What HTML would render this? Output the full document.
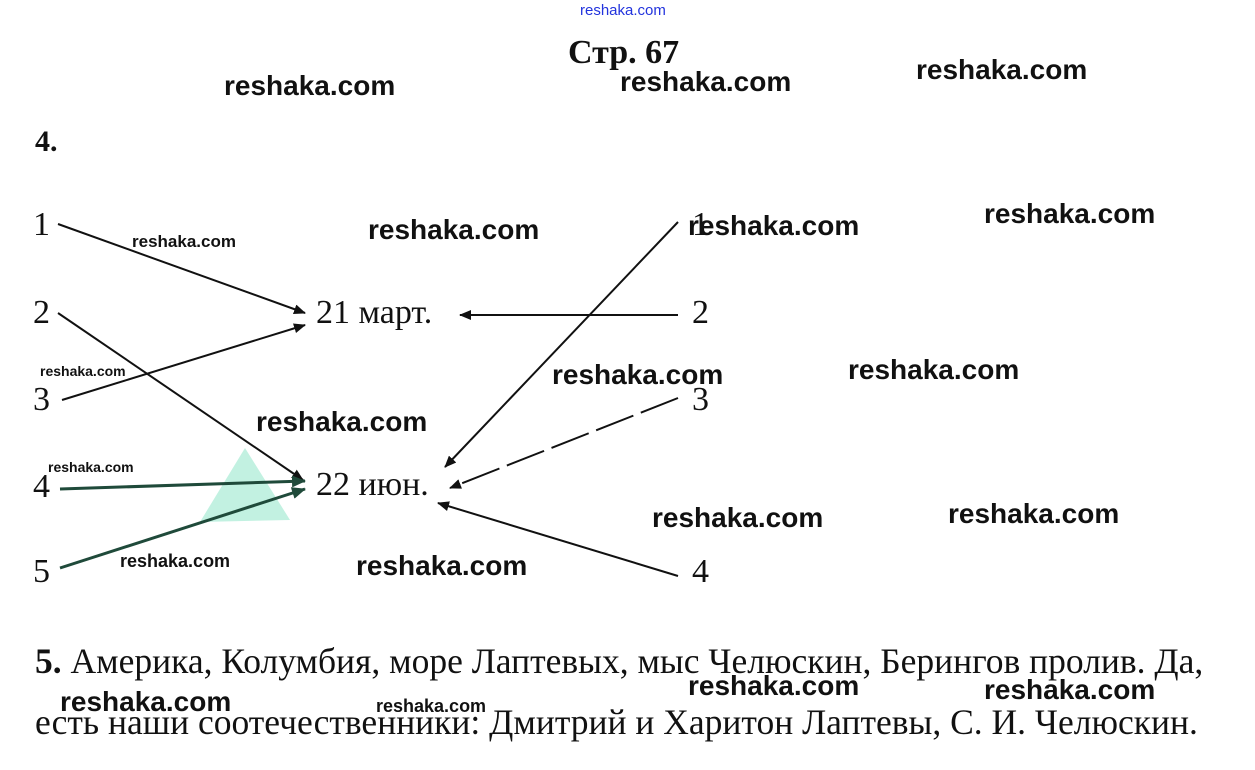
<!DOCTYPE html>
<html><head><meta charset="utf-8"><style>
body{margin:0;width:1255px;height:770px;background:#fff;position:relative;overflow:hidden}
.s{position:absolute;font-family:"Liberation Serif",serif;color:#111;white-space:nowrap}
.w{position:absolute;font-family:"Liberation Sans",sans-serif;font-weight:bold;color:#111;white-space:nowrap}
svg{position:absolute;left:0;top:0}
</style></head><body>
<svg width="1255" height="770">
<defs><marker id="a" markerWidth="12" markerHeight="10" refX="11" refY="5" orient="auto" markerUnits="userSpaceOnUse" viewBox="0 0 12 10"><path d="M0,0L12,5L0,10z" fill="#111"/></marker>
<marker id="g" markerWidth="14" markerHeight="12" refX="13" refY="6" orient="auto" markerUnits="userSpaceOnUse" viewBox="0 0 14 12"><path d="M0,0L14,6L0,12z" fill="#1f4a3a"/></marker></defs>
<polygon points="200,522 245,448 290,520" fill="#b7eedc" opacity="0.85"/>
<g stroke="#111" stroke-width="2" fill="none">
<line x1="58" y1="224" x2="305" y2="313" marker-end="url(#a)"/>
<line x1="58" y1="313" x2="303" y2="480" marker-end="url(#a)"/>
<line x1="62" y1="400" x2="305" y2="325" marker-end="url(#a)"/>
<line x1="678" y1="315" x2="460" y2="315" marker-end="url(#a)"/>
<line x1="678" y1="222" x2="445" y2="467" marker-end="url(#a)"/>
<line x1="678" y1="398" x2="450" y2="488" stroke-dasharray="40 8" marker-end="url(#a)"/>
<line x1="678" y1="576" x2="438" y2="503" marker-end="url(#a)"/>
</g>
<g stroke="#1f4a3a" stroke-width="3" fill="none">
<line x1="60" y1="489" x2="305" y2="481" marker-end="url(#g)"/>
<line x1="60" y1="568" x2="305" y2="489" marker-end="url(#g)"/>
</g>
</svg>
<div class="w" style="left:580px;top:2px;font-size:15px;font-weight:normal;color:#2233dd">reshaka.com</div>
<div class="s" style="left:568px;top:34px;font-size:34px;font-weight:bold">Стр. 67</div>
<div class="s" style="left:35px;top:125px;font-size:30px;font-weight:bold">4.</div>
<div class="s" style="left:33px;top:206px;font-size:34px">1</div>
<div class="s" style="left:33px;top:294px;font-size:34px">2</div>
<div class="s" style="left:33px;top:381px;font-size:34px">3</div>
<div class="s" style="left:33px;top:468px;font-size:34px">4</div>
<div class="s" style="left:33px;top:553px;font-size:34px">5</div>
<div class="s" style="left:316px;top:294px;font-size:34px">21 март.</div>
<div class="s" style="left:316px;top:466px;font-size:34px">22 июн.</div>
<div class="s" style="left:692px;top:206px;font-size:34px">1</div>
<div class="s" style="left:692px;top:294px;font-size:34px">2</div>
<div class="s" style="left:692px;top:381px;font-size:34px">3</div>
<div class="s" style="left:692px;top:553px;font-size:34px">4</div>
<div class="s" style="left:35px;top:640px;font-size:35.5px"><b>5.</b> Америка, Колумбия, море Лаптевых, мыс Челюскин, Берингов пролив. Да,</div>
<div class="s" style="left:35px;top:701px;font-size:35.5px">есть наши соотечественники: Дмитрий и Харитон Лаптевы, С. И. Челюскин.</div>
<div class="w" style="left:224px;top:70px;font-size:28px">reshaka.com</div>
<div class="w" style="left:620px;top:66px;font-size:28px">reshaka.com</div>
<div class="w" style="left:916px;top:54px;font-size:28px">reshaka.com</div>
<div class="w" style="left:132px;top:232px;font-size:17px">reshaka.com</div>
<div class="w" style="left:368px;top:214px;font-size:28px">reshaka.com</div>
<div class="w" style="left:688px;top:210px;font-size:28px">reshaka.com</div>
<div class="w" style="left:984px;top:198px;font-size:28px">reshaka.com</div>
<div class="w" style="left:40px;top:363px;font-size:14px">reshaka.com</div>
<div class="w" style="left:552px;top:359px;font-size:28px">reshaka.com</div>
<div class="w" style="left:848px;top:354px;font-size:28px">reshaka.com</div>
<div class="w" style="left:256px;top:406px;font-size:28px">reshaka.com</div>
<div class="w" style="left:48px;top:459px;font-size:14px">reshaka.com</div>
<div class="w" style="left:652px;top:502px;font-size:28px">reshaka.com</div>
<div class="w" style="left:948px;top:498px;font-size:28px">reshaka.com</div>
<div class="w" style="left:120px;top:551px;font-size:18px">reshaka.com</div>
<div class="w" style="left:356px;top:550px;font-size:28px">reshaka.com</div>
<div class="w" style="left:60px;top:686px;font-size:28px">reshaka.com</div>
<div class="w" style="left:376px;top:696px;font-size:18px">reshaka.com</div>
<div class="w" style="left:688px;top:670px;font-size:28px">reshaka.com</div>
<div class="w" style="left:984px;top:674px;font-size:28px">reshaka.com</div>
</body></html>
